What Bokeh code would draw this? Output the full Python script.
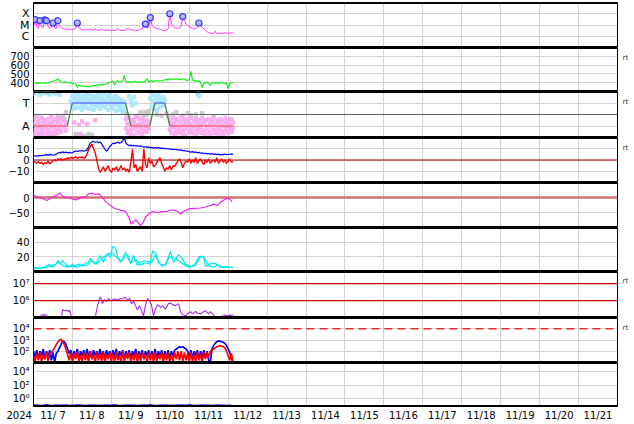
import numpy as np
from bokeh.plotting import figure
from bokeh.layouts import column
from bokeh.models import Range1d, FixedTicker, Span, LinearAxis, LogAxis
from bokeh.embed import file_html
from bokeh.resources import INLINE

# ---------------- data (time = hours since 2024-11-07 00:00 UT) ----------------
day_labels = ["11/ 7", "11/ 8", "11/ 9", "11/10", "11/11", "11/12", "11/13", "11/14",
              "11/15", "11/16", "11/17", "11/18", "11/19", "11/20", "11/21"]
year_label = "2024"

# X-ray flux, hourly, in units of 1e-6 W/m2 (C1 = 1)
xray_c = [6, 30, 8, 5, 24, 7, 6, 28, 24, 8,
          5, 6, 15, 6, 5, 24, 9, 6, 5, 4.5,
          4, 4.5, 4.2, 4, 3.8, 4.5, 5, 15, 6, 4.5,
          4, 3.6, 4.2, 3.5, 3.8, 4.4, 3.6, 3.4, 4.5, 3.6,
          3.3, 3.5, 4.6, 3.6, 3.4, 3.2, 3.8, 3.5, 3.3, 3.4,
          3.2, 3.6, 4.8, 3.5, 3.3, 3.2, 3.4, 3.7, 5.5, 4,
          3.8, 3.4, 3.6, 3.5, 3.3, 3.8, 4.2, 4.5, 8, 12,
          5, 6, 45, 10, 7, 5.5, 5, 4.5, 4.2, 3.5,
          3.2, 3.4, 3.6, 4.5, 100, 14, 8, 6, 5.5, 5,
          5.6, 7, 56, 25, 14, 9, 7, 6, 5, 4.5,
          5, 6, 15, 9, 6, 4.5, 3.5, 2.5, 2.1, 1.9,
          1.7, 1.8, 2.8, 1.8, 1.7, 1.9, 1.8, 1.7, 2, 1.8,
          1.9, 1.9, 2, 2]
flares = [(1, 30), (4, 24), (7, 28), (8, 24), (12, 15), (15, 24), (27, 15),
          (69, 12), (72, 45), (84, 100), (92, 56), (102, 15)]

# Solar wind speed (km/s), hourly
wind = [395, 400, 392, 398, 390, 402, 396, 393, 399, 394,
        405, 410, 418, 422, 430, 442, 425, 412, 408, 405,
        410, 402, 398, 400, 392, 388, 385, 348, 372, 365,
        360, 358, 362, 355, 352, 358, 362, 366, 370, 375,
        372, 378, 380, 376, 382, 385, 395, 405, 410, 418,
        372, 415, 420, 408, 416, 422, 483, 410, 405, 415,
        398, 412, 405, 418, 400, 410, 406, 414, 402, 420,
        445, 412, 418, 422, 415, 420, 425, 418, 422, 416,
        428, 432, 438, 430, 445, 436, 442, 438, 448, 435,
        440, 432, 445, 438, 430, 425, 440, 528, 430, 418,
        425, 412, 420, 405, 345, 400, 395, 408, 392, 370,
        398, 402, 395, 400, 390, 398, 405, 393, 388, 400,
        334, 395, 402, 398]

# IMF sector (A = 1, T = 3)
sector_step = [(0, 1), (20.8, 1), (23.9, 3), (56.7, 3), (60.2, 1), (71.7, 1),
               (74.8, 3), (80.9, 3), (84.0, 1), (123.4, 1)]
away_pts = [(0, 1.6), (0, 0.6), (1, 1.2), (1, 0.3), (2, 1.8), (2, 0.8), (3, 1.4), (3, 0.4),
            (4, 1.0), (4, 0.2), (5, 1.7), (5, 0.7), (6, 1.3), (6, 0.5), (7, 1.5), (7, 0.9),
            (8, 1.1), (8, 0.3), (9, 1.6), (9, 0.6), (10, 1.2), (10, 0.4), (11, 1.8), (11, 0.9),
            (12, 1.4), (12, 0.5), (13, 1.0), (13, 0.3), (14, 1.6), (14, 0.7), (15, 1.3), (15, 0.4),
            (16, 1.7), (16, 0.8), (17, 1.1), (17, 0.5), (18, 1.5), (19, 0.9), (20, 1.3), (20, 0.6),
            (25, 1.3), (28, 1.1), (30, 1.4), (33, 1.2), (29, 0.3), (38, 1.5),
            (57, 1.6), (57, 0.8), (58, 1.2), (58, 0.4), (59, 1.7), (59, 0.6), (60, 1.0), (60, 0.3),
            (61, 1.5), (61, 0.7), (62, 1.3), (62, 0.2), (63, 1.8), (63, 0.9), (64, 1.1), (64, 0.5),
            (65, 1.6), (65, 0.4), (66, 1.2), (66, 0.8), (67, 1.7), (67, 0.3), (68, 1.4), (68, 0.6),
            (69, 1.0), (70, 1.5), (70, 0.5), (71, 1.3), (71, 0.8),
            (84, 1.5), (84, 0.7), (85, 1.2), (85, 0.4), (86, 1.7), (86, 0.9), (87, 1.3), (87, 0.3),
            (88, 1.6), (88, 0.6), (89, 1.0), (89, 0.4), (90, 1.4), (90, 0.8), (91, 1.8), (91, 0.5),
            (92, 1.1), (92, 0.3), (93, 1.5), (93, 0.7), (94, 1.3), (94, 0.2), (95, 1.6), (95, 0.9),
            (96, 1.2), (96, 0.5), (97, 1.7), (97, 0.6), (98, 1.0), (98, 0.4), (99, 1.4), (99, 0.8),
            (100, 1.6), (100, 0.3), (101, 1.2), (101, 0.7), (102, 1.5), (102, 0.5), (103, 1.1),
            (103, 0.9), (104, 1.7), (104, 0.4), (105, 1.3), (105, 0.6), (106, 1.5), (106, 0.2),
            (107, 1.0), (107, 0.8), (108, 1.6), (108, 0.5), (109, 1.2), (109, 0.3), (110, 1.4),
            (110, 0.9), (111, 1.8), (111, 0.6), (112, 1.1), (112, 0.4), (113, 1.5), (113, 0.7),
            (114, 1.3), (114, 0.3), (115, 1.6), (115, 0.8), (116, 1.0), (116, 0.5), (117, 1.4),
            (117, 0.2), (118, 1.7), (118, 0.6), (119, 1.2), (119, 0.9), (120, 1.5), (120, 0.4),
            (121, 1.1), (121, 0.7), (122, 1.6), (122, 0.5), (123, 1.3), (123, 0.8)]
toward_pts = [(0, 3.8), (2, 3.9), (4, 3.7), (6, 3.85), (8, 3.9), (10, 3.75), (12, 3.9), (14, 3.8),
              (16, 3.7), (23, 3.2), (24, 3.6), (24, 2.8), (25, 3.4), (25, 2.5), (26, 3.7), (26, 3.0),
              (27, 3.3), (27, 2.6), (28, 3.8), (28, 3.1), (29, 3.5), (29, 2.7), (30, 3.2), (30, 2.4),
              (31, 3.6), (31, 2.9), (32, 3.4), (32, 2.6), (33, 3.7), (33, 3.0), (34, 3.3), (34, 2.5),
              (35, 3.8), (35, 3.1), (36, 3.5), (36, 2.8), (37, 3.2), (37, 2.4), (38, 3.6), (38, 2.9),
              (39, 3.4), (39, 2.7), (40, 3.7), (40, 3.0), (41, 3.3), (41, 2.5), (42, 3.5), (42, 2.8),
              (43, 3.8), (43, 3.1), (44, 3.2), (44, 2.6), (45, 3.6), (45, 2.9), (46, 3.4), (46, 2.4),
              (47, 3.7), (47, 3.0), (48, 3.3), (48, 2.7), (49, 3.5), (49, 2.5), (50, 3.2), (50, 2.9),
              (51, 3.6), (51, 2.3), (52, 3.4), (52, 2.8), (53, 3.0), (53, 2.4), (54, 3.3), (54, 2.6),
              (55, 2.9), (55, 2.2), (56, 3.1), (56, 2.5), (59, 3.6), (60, 3.2), (61, 2.8), (62, 3.5),
              (63, 3.0), (72, 3.4), (73, 3.7), (73, 2.7), (74, 3.2), (74, 2.5), (75, 3.6), (75, 2.9),
              (76, 3.3), (76, 2.4), (77, 3.7), (77, 3.0), (78, 3.4), (78, 2.6), (79, 3.1), (80, 3.5),
              (80, 2.8), (81, 3.2), (101, 3.8), (102, 3.6), (102, 3.9)]
other_pts = [(1, 0.2), (3, 0.15), (5, 0.3), (7, 1.0), (8, 0.9), (9, 0.2), (11, 0.1), (13, 0.25),
             (15, 1.9), (16, 1.7), (18, 1.9), (19, 1.6), (26, 0.3), (28, 0.2), (31, 0.15),
             (34, 0.3), (36, 0.2), (57, 2.1), (58, 2.0), (64, 1.9), (66, 2.2), (68, 1.9), (69, 2.2),
             (70, 2.0), (71, 2.3), (76, 2.0), (79, 1.9), (82, 2.1), (83, 1.9), (86, 2.0), (88, 2.2),
             (92, 1.9), (95, 2.1), (97, 1.95), (100, 2.0), (104, 2.1), (3, 3.95), (9, 3.85), (20, 2.2)]

# IMF Bt and Bz (nT), hourly
bt = [3.5, 3.8, 3.2, 4.0, 3.6, 4.2, 3.9, 4.5, 4.8, 4.3,
      5.0, 4.6, 4.2, 4.5, 5.2, 6.0, 6.8, 6.5, 7.2, 6.6,
      7.0, 6.4, 6.8, 6.2, 6.5, 7.5, 8.0, 7.6, 8.2, 8.0,
      8.5, 7.8, 8.3, 9.0, 12.0, 15.0, 16.0, 16.5, 15.8, 16.2,
      15.5, 16.0, 14.5, 12.0, 9.5, 8.0, 9.5, 12.0, 13.5, 15.0,
      14.6, 15.2, 15.8, 15.0, 15.6, 17.0, 20.0, 15.0, 13.5, 12.8,
      13.2, 12.5, 13.0, 12.4, 12.8, 12.2, 12.6, 12.0, 11.5, 11.8,
      11.2, 11.6, 10.8, 11.2, 10.6, 11.0, 10.5, 11.0, 10.4, 10.8,
      10.0, 10.4, 9.8, 10.2, 9.5, 9.8, 9.2, 9.6, 9.0, 9.3,
      8.6, 9.0, 8.2, 8.5, 7.8, 8.0, 7.4, 7.0, 7.4, 6.8,
      7.2, 6.4, 6.8, 6.0, 6.4, 5.6, 6.0, 5.4, 5.8, 5.2,
      5.6, 5.0, 5.4, 4.8, 5.2, 4.6, 5.0, 4.8, 5.3, 4.7,
      5.1, 4.9, 5.4, 5.0]
bz = [-1, -2, -3, -1.5, -3, -2, -4, -2.5, -3, -1,
      -3.5, -2, -1, 0.5, -1, 1, 0, 1.5, -0.5, 1,
      0.5, 2, 1, 2.5, 1.5, 2, 3, 1.5, 2.5, 2,
      3, 1.5, 2.5, 5, 9.5, 12, 14, 10, 6.5, 0,
      -7, -11, -9, -6, -10, -8, -5, -9, -11, -7,
      -9, -6, -10, -8, -5, -9, -7, -10, -8, -11,
      -2.5, 9.5, -7, -4, -10, -8, -6, -10, 9.7, -4,
      -7, 2, -3, -1, -6, -5, -2, 0, 2, -3,
      -6, -10, -7, -8, -5, -9, -5, -6, -3, -1,
      1, -2, -7, -3, -1, -2, 1, -3, 0, -2,
      2, -3, -1, 1, -2, -4, 0, -2, 1, -3,
      -1, 0, -2, 2, -3, -1, 1, -2, 0, -3,
      -1, 1, -2, -1]

# Dst index (nT)
dst = [(0, 6), (2.3, 3), (5.3, -2.6), (8.4, -10), (10.5, -1), (13.6, 6), (16.2, 15), (17.7, 6),
       (19.7, -1), (21.8, 0), (23.8, -5), (25.9, -8), (29, -1), (32, 3), (34, 12), (36.2, 15),
       (38.2, 10), (40.3, 12), (42.3, 1), (44.4, -13), (47.5, -27), (49.5, -35), (52.6, -41),
       (56.7, -46), (58.8, -66), (60.2, -89), (61.8, -80), (63.3, -75), (64.9, -87), (66, -94),
       (67.6, -83), (69, -66), (71.1, -55), (73.2, -47), (76.3, -50), (79.3, -47), (82.4, -46),
       (85.5, -41), (88.6, -46), (90.6, -55), (92.7, -46), (95.8, -38), (98.8, -36), (103, -35),
       (107.1, -30), (111.2, -22), (113.2, -27), (115.3, -16), (118.4, -5), (120, -1),
       (121.5, -8), (122.5, -14)]

# geomagnetic activity, two series
act_a = [(0, 4), (2, 5), (4, 4), (6, 6), (8, 5), (9.5, 10), (10.5, 8), (12, 8.5), (13.6, 9),
         (15, 15), (16.6, 10), (18, 15), (20, 9), (22, 7), (24, 9), (26, 8), (28, 10), (30, 7),
         (32, 11), (34, 13), (35, 18), (37, 12), (38.2, 10), (41.3, 22), (43, 12.5), (45.6, 24.6),
         (47.5, 19), (48.7, 34), (50.6, 32.7), (51.8, 22), (53.6, 12.5), (55, 18), (56.7, 26),
         (58.6, 20.6), (59.8, 11), (61.7, 22), (64, 8.5), (66, 12.5), (69, 15), (72, 12.5),
         (73.4, 27.7), (75.2, 26), (77, 12.5), (79.5, 7), (81.4, 10), (84.5, 27.3), (86.3, 12.5),
         (89.4, 23), (91.2, 19), (93.7, 10), (96.8, 7), (99.9, 8.5), (103, 20.6), (104.8, 20.6),
         (106, 7), (109, 11), (112.2, 10.8), (115.3, 5.8), (118.4, 7), (120, 6), (122.7, 5.8)]
act_b = [(0, 6), (3, 4), (6, 5), (9, 8), (12, 6), (15, 13), (18, 8), (21, 6), (24, 7), (27, 6),
         (30, 9), (33, 8), (36, 15), (39, 10), (42, 18), (45, 22), (48, 26), (51, 20), (54, 14),
         (57, 22), (60, 12), (63, 16), (66, 9), (69, 12), (72, 10), (75, 22), (78, 10), (81, 8),
         (84, 20), (87, 18), (90, 14), (93, 9), (96, 6), (99, 8), (102, 20), (105, 20), (108, 8),
         (111, 6), (114, 9), (117, 5), (120, 6), (123, 5)]

# electron flux, log10, segments with data gaps
electron_log = [
    [(4.3, 5.15), (5.5, 5.12), (6.5, 5.18), (7.5, 5.13), (8.6, 5.16)],
    [(17.3, 5.1), (18, 5.46), (19.2, 5.4), (20.4, 5.43), (21.6, 5.34), (22.2, 5.45), (22.8, 5.22),
     (23.4, 5.1)],
    [(38.2, 5.1), (39.5, 5.7), (40.7, 6.12), (41.3, 6.2), (42.5, 5.82), (43.8, 6.06), (45, 5.94),
     (46.2, 6.12), (47.5, 6.0), (48.7, 6.04), (50.6, 6.09), (52.4, 6.06), (53.6, 6.12),
     (55.5, 6.15), (56.7, 6.2), (58, 6.0), (59.2, 6.15), (60.4, 5.8), (61.7, 5.96), (62.9, 5.7),
     (64.1, 5.44), (65.3, 5.7), (66.6, 5.4), (67.8, 5.1), (69, 5.7), (70.3, 6.12), (71.5, 6.0),
     (72.7, 5.76), (74, 5.1), (75.2, 5.52), (76.4, 5.76), (78.3, 5.58), (79.5, 5.7), (81.4, 5.5),
     (83.2, 5.82), (84.5, 5.86), (85.7, 5.76), (87.5, 5.7), (89.4, 5.82), (90.6, 5.34),
     (91.9, 5.16), (93.7, 5.1), (95.6, 5.28), (96.8, 5.34), (98, 5.22), (99.9, 5.36),
     (101.1, 5.25), (103, 5.22), (104.8, 5.34), (106, 5.4), (107.9, 5.22), (109.1, 5.34),
     (110.4, 5.22), (111.6, 5.1)],
    [(116.5, 5.12), (118, 5.15), (119.5, 5.1), (121, 5.14), (122.5, 5.11), (123.3, 5.13)],
]

# proton flux, log10, hourly
proton_red_log = [1.6, 1.1, 1.8, 1.2, 1.9, 1.0, 1.7, 1.3, 1.9, 1.1,
                  1.8, 1.9, 2.1, 2.3, 2.6, 2.8, 3.0, 3.05, 2.9, 2.6,
                  2.2, 1.7, 1.2, 1.9, 1.0, 1.8, 1.3, 1.9, 1.1, 1.7,
                  1.0, 1.9, 1.2, 1.8, 1.0, 2.0, 1.3, 1.7, 1.0, 1.9,
                  1.2, 1.8, 1.1, 1.9, 1.0, 1.7, 1.3, 1.9, 1.1, 1.8,
                  1.0, 1.9, 1.2, 1.7, 1.0, 2.0, 1.1, 1.8, 1.3, 1.9,
                  1.0, 1.7, 1.2, 1.9, 1.0, 1.8, 1.1, 1.9, 1.3, 1.7,
                  1.0, 1.9, 1.2, 1.8, 1.0, 1.9, 1.1, 1.7, 1.3, 1.9,
                  1.0, 1.8, 1.2, 1.9, 1.0, 1.7, 1.1, 1.9, 1.3, 2.0,
                  1.2, 2.0, 1.1, 1.9, 1.2, 1.8, 1.0, 1.9, 1.1, 1.7,
                  1.0, 1.9, 1.2, 1.8, 1.0, 1.9, 1.3, 1.9, 1.5, 2.0,
                  2.1, 2.2, 2.3, 2.4, 2.45, 2.5, 2.45, 2.4, 2.3, 2.0,
                  1.6, 1.2, 1.8, 1.0]
proton_blue_log = [2.0, 1.5, 2.1, 1.4, 2.0, 1.6, 2.2, 1.3, 2.0, 1.5,
                   2.1, 1.2, 1.9, 1.0, 1.8, 2.0, 2.3, 2.6, 2.9, 2.85,
                   2.6, 2.2, 1.8, 2.1, 1.4, 2.0, 1.5, 2.2, 1.3, 2.0,
                   1.6, 2.1, 1.4, 2.2, 1.5, 2.0, 1.3, 2.1, 1.6, 2.0,
                   1.4, 2.2, 1.5, 2.0, 1.3, 2.1, 1.6, 2.0, 1.4, 2.1,
                   1.5, 2.2, 1.3, 2.0, 1.6, 2.1, 1.4, 2.0, 1.5, 2.1,
                   1.3, 2.0, 1.6, 2.2, 1.4, 2.0, 1.5, 2.1, 1.3, 2.0,
                   1.6, 2.1, 1.4, 2.0, 1.5, 2.2, 1.3, 2.0, 1.6, 2.1,
                   1.4, 2.0, 1.5, 2.1, 1.3, 2.0, 1.6, 2.1, 2.2, 2.3,
                   2.4, 2.35, 2.4, 2.3, 2.2, 2.0, 1.5, 2.1, 1.4, 2.0,
                   1.6, 2.1, 1.3, 2.0, 1.5, 2.1, 1.4, 2.0, 1.2, 1.0,
                   2.2, 2.5, 2.7, 2.85, 2.9, 2.9, 2.85, 2.8, 2.7, 2.5,
                   2.2, 1.9, 1.4, 1.0]

# bottom panel flux, every 2 hours
low_flux = [0.12, 0.13, 0.11, 0.12, 0.14, 0.12, 0.11, 0.13, 0.12, 0.12, 0.13, 0.11, 0.12,
            0.12, 0.14, 0.12, 0.11, 0.12, 0.13, 0.12, 0.12, 0.11, 0.13, 0.12, 0.12, 0.14,
            0.12, 0.11, 0.12, 0.13, 0.12, 0.12, 0.11, 0.12, 0.13, 0.12, 0.14, 0.12, 0.11,
            0.12, 0.13, 0.12, 0.12, 0.11, 0.12, 0.13, 0.12, 0.12, 0.14, 0.12, 0.11, 0.12,
            0.13, 0.12, 0.12, 0.11, 0.12, 0.13, 0.12, 0.12, 0.11, 0.12]

# ---------------- layout ----------------
W, AXH = 633, 17
BL, BR = 33, 16
FONT = "DejaVu Sans"
GRID = "#d2d2d2"
day_bounds = [24 * k for k in range(1, 15)]
day_mids = [24 * k + 12 for k in range(15)]
xr = Range1d(0, 360)


def style_axis(ax, size="10px", color="black", standoff=4):
    ax.major_label_text_font = FONT
    ax.major_label_text_font_size = size
    ax.major_label_text_color = color
    ax.axis_line_color = None
    ax.major_tick_line_color = None
    ax.minor_tick_line_color = None
    ax.major_tick_out = 0
    ax.major_tick_in = 0
    ax.minor_tick_out = 0
    ax.minor_tick_in = 0
    ax.major_label_standoff = standoff


def panel(yr, fh, log=False, ticks=(), labels=None, top=0, bottom=False, rt=None, lsize="10px"):
    h = fh + top + (AXH if bottom else 0)
    p = figure(width=W, height=h, x_range=xr, y_range=yr,
               y_axis_type="log" if log else "linear",
               x_axis_location="below" if bottom else None,
               output_backend="svg", toolbar_location=None,
               min_border_left=BL, min_border_right=BR,
               min_border_top=top, min_border_bottom=AXH if bottom else 0)
    p.outline_line_color = "black"
    p.outline_line_width = 1
    p.background_fill_color = "white"
    p.border_fill_color = "white"
    ax = p.yaxis[0]
    ax.ticker = FixedTicker(ticks=list(ticks))
    if labels:
        ax.major_label_overrides = dict(zip(ticks, labels))
    style_axis(ax, size=lsize, standoff=4)
    p.xgrid.ticker = FixedTicker(ticks=day_bounds)
    p.xgrid.grid_line_color = GRID
    p.ygrid.grid_line_color = GRID
    for loc in (yr.start, yr.end):
        p.add_layout(Span(location=loc, dimension="width", line_color="black", line_width=3))
    if rt is not None:
        rax = LogAxis() if log else LinearAxis()
        rax.ticker = FixedTicker(ticks=[rt])
        rax.major_label_overrides = {rt: "rt"}
        style_axis(rax, size="7px", color="#333333", standoff=5)
        p.add_layout(rax, "right")
    if bottom:
        xa = p.xaxis[0]
        ticks_x = [0.01] + day_mids
        xa.ticker = FixedTicker(ticks=ticks_x)
        xa.major_label_overrides = dict(zip(ticks_x, [year_label + "\u00a0" * 9] + day_labels))
        style_axis(xa, size="10px", standoff=3)
    return p


hours = np.arange(124)

# 1: X-ray
p1 = panel(Range1d(1e-7, 1e-3), 45, log=True, ticks=[1e-6, 1e-5, 1e-4], labels=["C", "M", "X"],
           top=2, lsize="11px")
p1.line(hours, np.array(xray_c) * 1e-6, line_color="#ff33ff", line_width=1)
ft, fv = zip(*flares)
p1.scatter(list(ft), list(np.array(fv) * 1e-6), size=6, marker="circle",
           fill_color="#b4b4ff", fill_alpha=0.85, line_color="#3333ff", line_width=1.2)

# 2: solar wind speed
p2 = panel(Range1d(300, 800), 44, ticks=[400, 500, 600, 700], rt=686)
p2.line(np.arange(len(wind)), wind, line_color="#11ee11", line_width=1.2)

# 3: IMF sector
p3 = panel(Range1d(0, 4), 46, ticks=[1, 3], labels=["A", "T"], rt=3.13, lsize="11px")
for pts, col in ((other_pts, "#c8c8c8"), (away_pts, "#f8a8f0"), (toward_pts, "#a8e4fa")):
    t, v = zip(*pts)
    p3.scatter(list(t), list(v), marker="square", size=3.5, fill_color=col, line_color=col, alpha=0.9)
p3.add_layout(Span(location=2, dimension="width", line_color="#606060", line_width=1))
st, sv = zip(*sector_step)
seg_cols = []
for i in range(len(sv) - 1):
    if sv[i] == sv[i + 1] == 3:
        seg_cols.append("#4040ff")
    elif sv[i] == sv[i + 1] == 1:
        seg_cols.append("#ff4040")
    else:
        seg_cols.append("#408040")
p3.segment(list(st[:-1]), list(sv[:-1]), list(st[1:]), list(sv[1:]), line_color=seg_cols, line_width=1.2)

# 4: Bt / Bz
p4 = panel(Range1d(-20, 20), 45, ticks=[-10, 0, 10], labels=["\u221210", "0", "10"], rt=11.1)
p4.add_layout(Span(location=0, dimension="width", line_color="#a00000", line_width=1, level="underlay"))
p4.line(np.arange(len(bt)), bt, line_color="#0000ff", line_width=1.2)
p4.line(np.arange(len(bz)), bz, line_color="#ff0000", line_width=1.4)

# 5: Dst
p5 = panel(Range1d(-100, 50), 45, ticks=[-50, 0], labels=["\u221250", "0"])
p5.add_layout(Span(location=0, dimension="width", line_color="#d07070", line_width=2.5, level="underlay"))
dt, dv = zip(*dst)
p5.line(list(dt), list(dv), line_color="#f020f0", line_width=1.2)

# 6: activity
p6 = panel(Range1d(0, 60), 44, ticks=[20, 40])
for ser in (act_b, act_a):
    t, v = zip(*ser)
    p6.line(list(t), list(v), line_color="#00e8f0", line_width=1.2)

# 7: electrons
p7 = panel(Range1d(1e5, 5.2e7), 46, log=True, ticks=[1e6, 1e7], labels=["10\u2076", "10\u2077"], rt=1.34e7)
p7.ygrid.grid_line_color = None
for loc in (1e6, 1e7):
    p7.add_layout(Span(location=loc, dimension="width", line_color="#cc0000", line_width=1.2))
for seg in electron_log:
    t, v = zip(*seg)
    p7.line(list(t), list(10 ** np.array(v)), line_color="#a030e0", line_width=1.1)

# 8: protons
p8 = panel(Range1d(1e1, 1e5), 45, log=True, ticks=[1e2, 1e3, 1e4],
           labels=["10\u00b2", "10\u00b3", "10\u2074"], rt=1.29e4)
p8.add_layout(Span(location=1e4, dimension="width", line_color="#e03030", line_width=1.5, line_dash="8 5"))
p8.line(np.arange(len(proton_blue_log)), 10 ** np.array(proton_blue_log), line_color="#0000ff", line_width=1.7)
p8.line(np.arange(len(proton_red_log)), 10 ** np.array(proton_red_log), line_color="#ff0000", line_width=1.7)

# 9: bottom panel
p9 = panel(Range1d(10 ** -1.1, 10 ** 5.3), 44, log=True, ticks=[1, 1e2, 1e4],
           labels=["10\u2070", "10\u00b2", "10\u2074"], bottom=True)
p9.line(2 * np.arange(len(low_flux)), low_flux, line_color="#2020ff", line_width=1.5)

layout = column(p1, p2, p3, p4, p5, p6, p7, p8, p9, spacing=0)
open("out.html", "w").write(file_html(layout, INLINE))
